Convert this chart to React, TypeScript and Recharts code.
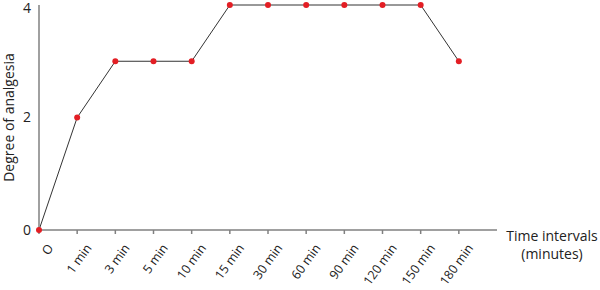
import React from 'react';
import { LineChart, Line, XAxis, YAxis } from 'recharts';

const timeLabels = ['O', '1 min', '3 min', '5 min', '10 min', '15 min', '30 min', '60 min', '90 min', '120 min', '150 min', '180 min'];
const analgesia = [0, 2, 3, 3, 3, 4, 4, 4, 4, 4, 4, 3];
const yTicks = [0, 2, 4];

const data = timeLabels.map((label, i) => ({ idx: i, label, value: analgesia[i] }));
const xTicks = timeLabels.map((_, i) => i);

const FONT = '"Open Sans", sans-serif';

const RotatedTick = (props: any) => {
  const { x, y, payload } = props;
  return (
    <g transform={`translate(${x},${y})`}>
      <text
        x={15}
        y={14}
        textAnchor="end"
        fill="#222"
        fontSize={12.5}
        fontFamily={FONT}
        transform="rotate(-54, 15, 14)"
      >
        {timeLabels[payload.value]}
      </text>
    </g>
  );
};

const XLabel = (props: any) => {
  const { viewBox } = props;
  const cx = viewBox.x + viewBox.width + 55;
  return (
    <text textAnchor="middle" fill="#222" fontSize={14} fontFamily={FONT}>
      <tspan x={cx} y={viewBox.y + 11}>Time intervals</tspan>
      <tspan x={cx} y={viewBox.y + 29}>(minutes)</tspan>
    </text>
  );
};

const YLabel = (props: any) => {
  const { viewBox } = props;
  const cy = viewBox.y + viewBox.height / 2;
  return (
    <text
      x={14}
      y={cy}
      textAnchor="middle"
      fill="#222"
      fontSize={14}
      fontFamily={FONT}
      transform={`rotate(-90, 14, ${cy})`}
    >
      Degree of analgesia
    </text>
  );
};

export default function App() {
  return (
    <div style={{ position: 'absolute', left: 0, top: 0, background: '#fff' }}>
      <LineChart width={600} height={290} data={data} margin={{ top: 5, right: 103, bottom: 0, left: 0 }}>
        <XAxis
          dataKey="idx"
          type="number"
          domain={[0, 12]}
          ticks={xTicks}
          interval={0}
          height={60}
          stroke="#808080"
          strokeWidth={1.5}
          tickSize={4}
          tickMargin={0}
          tick={<RotatedTick />}
          label={<XLabel />}
        />
        <YAxis
          type="number"
          domain={[0, 4]}
          ticks={yTicks}
          width={39}
          stroke="#808080"
          strokeWidth={1.5}
          tickLine={false}
          tickSize={0}
          tickMargin={8}
          tick={{ fill: '#222', fontSize: 14, fontFamily: FONT }}
          label={<YLabel />}
        />
        <Line
          type="linear"
          dataKey="value"
          stroke="#333"
          strokeWidth={1}
          dot={{ r: 3, fill: '#e31e24', stroke: '#e31e24', strokeWidth: 0 }}
          isAnimationActive={false}
        />
      </LineChart>
    </div>
  );
}
